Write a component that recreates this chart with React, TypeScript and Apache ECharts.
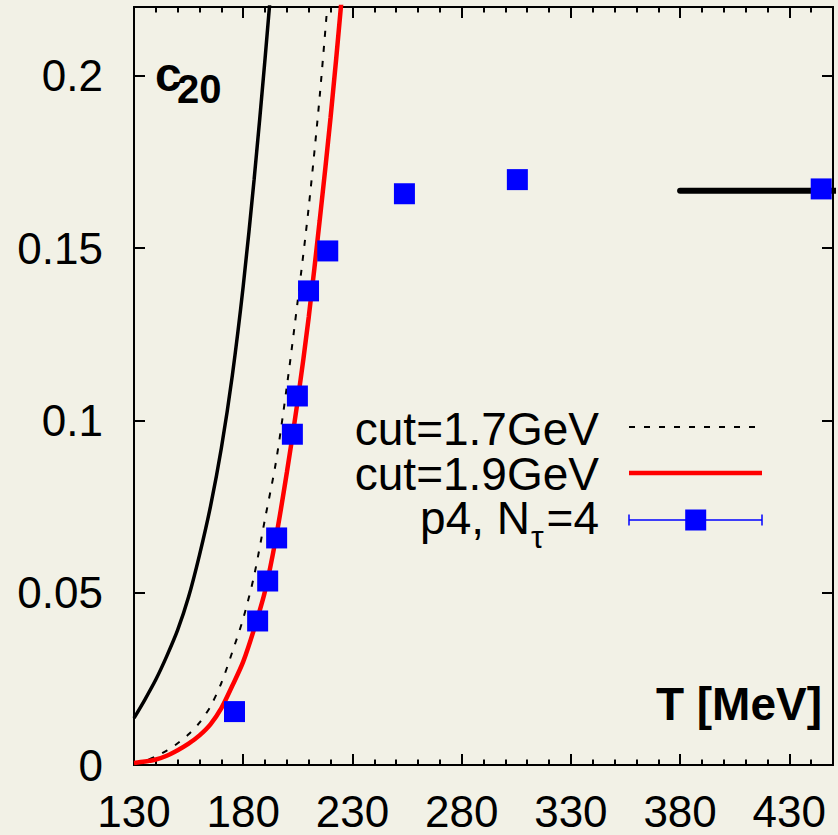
import React, { useEffect, useRef } from "react";
import * as echarts from "echarts";

// solid black curve (no legend entry)
const hrgT = [130, 135, 140, 145, 150, 155, 160, 165, 170, 175, 180, 185, 190, 195];
const hrgC2 = [0.0136, 0.019, 0.0248, 0.0316, 0.0392, 0.0488, 0.061, 0.075, 0.092, 0.113, 0.139, 0.17, 0.205, 0.243];

// cut=1.7GeV (dashed black)
const cut17T = [130, 135, 140, 145, 150, 155, 160, 165, 170, 175, 180, 185, 190, 195, 200, 205, 210, 215, 220];
const cut17C2 = [0.0006, 0.0012, 0.0025, 0.0042, 0.0063, 0.0089, 0.0123, 0.017, 0.0238, 0.0328, 0.0425, 0.055, 0.0715, 0.088, 0.11, 0.135, 0.162, 0.194, 0.232];

// cut=1.9GeV (red)
const cut19T = [130, 135, 140, 145, 150, 155, 160, 165, 170, 175, 180, 185, 190, 195, 200, 205, 210, 215, 220, 225, 230];
const cut19C2 = [0.0006, 0.001, 0.0016, 0.0027, 0.0043, 0.0062, 0.0086, 0.0118, 0.0165, 0.023, 0.03, 0.0395, 0.0505, 0.066, 0.085, 0.106, 0.13, 0.158, 0.188, 0.222, 0.26];

// p4, N_tau=4 lattice points
const p4T = [176.0, 186.6, 191.2, 195.3, 202.5, 204.8, 209.9, 218.7, 253.8, 305.5, 444.6];
const p4C2 = [0.0155, 0.0418, 0.0534, 0.0659, 0.096, 0.1071, 0.1376, 0.1492, 0.1658, 0.1699, 0.1672];

// Stefan-Boltzmann limit segment
const sbT = [380, 452];
const sbC2 = [0.1667, 0.1667];

const X_MIN = 130, X_MAX = 450, X_MAJOR = 50, X_MINOR = 10;
const Y_MIN = 0, Y_MAX = 0.22, Y_MAJOR = 0.05;

const FONT = "'Liberation Sans', Arial, Helvetica, sans-serif";
const BG = "#f2f1e6";

const zip = (xs: number[], ys: number[]) => xs.map((x, i) => [x, ys[i]]);

export default function App() {
  const ref = useRef<HTMLDivElement>(null);
  useEffect(() => {
    const chart = echarts.init(ref.current!, null, { renderer: "svg" });
    const line = { show: true, onZero: false, lineStyle: { color: "#000", width: 2 } };
    const noLabel = { show: false };
    const xAx = (position: string, interval: number, len: number, labels: boolean) => ({
      type: "value",
      position,
      min: X_MIN,
      max: X_MAX,
      interval,
      axisLine: line,
      axisTick: { show: true, inside: true, length: len, lineStyle: { color: "#000", width: 2 } },
      axisLabel: labels
        ? { show: true, fontSize: 44, color: "#000", fontFamily: FONT, margin: 24, showMaxLabel: false }
        : noLabel,
      splitLine: { show: false },
    });
    const yAx = (position: string, labels: boolean) => ({
      type: "value",
      position,
      min: Y_MIN,
      max: Y_MAX,
      interval: Y_MAJOR,
      axisLine: line,
      axisTick: { show: true, inside: true, length: 11, lineStyle: { color: "#000", width: 2 } },
      axisLabel: labels
        ? { show: true, fontSize: 44, color: "#000", fontFamily: FONT, margin: 31, showMaxLabel: false }
        : noLabel,
      splitLine: { show: false },
    });
    const txt = (
      text: string,
      x: number,
      y: number,
      size: number,
      align: string,
      weight = "normal",
      lh?: number
    ) => ({
      type: "text",
      style: {
        text,
        x,
        y,
        fill: "#000",
        fontSize: size,
        fontFamily: FONT,
        fontWeight: weight,
        textAlign: align,
        textVerticalAlign: "middle",
        verticalAlign: "middle",
        lineHeight: lh ?? size,
      },
      z: 100,
    });
    chart.setOption({
      animation: false,
      backgroundColor: BG,
      grid: { left: 134, right: 5, top: 7, bottom: 70, containLabel: false },
      xAxis: [
        xAx("bottom", X_MAJOR, 11, true),
        xAx("bottom", X_MINOR, 5.5, false),
        xAx("top", X_MAJOR, 11, false),
        xAx("top", X_MINOR, 5.5, false),
      ],
      yAxis: [yAx("left", true), yAx("right", false)],
      series: [
        {
          type: "line",
          data: zip(hrgT, hrgC2),
          smooth: 0.3,
          showSymbol: false,
          lineStyle: { color: "#000", width: 3.5 },
        },
        {
          type: "line",
          name: "cut=1.7GeV",
          data: zip(cut17T, cut17C2),
          smooth: 0.3,
          showSymbol: false,
          lineStyle: { color: "#000", width: 2, type: [6, 9] },
        },
        {
          type: "line",
          name: "cut=1.9GeV",
          data: zip(cut19T, cut19C2),
          smooth: 0.3,
          showSymbol: false,
          lineStyle: { color: "#ff0000", width: 4.5 },
        },
        {
          type: "line",
          data: zip(sbT, sbC2),
          showSymbol: false,
          clip: false,
          lineStyle: { color: "#000", width: 6, cap: "round" },
        },
        {
          type: "scatter",
          name: "p4, N_tau=4",
          data: zip(p4T, p4C2),
          symbol: "rect",
          symbolSize: 21,
          itemStyle: { color: "#0000ff", opacity: 1 },
          z: 10,
        },
      ],
      graphic: [
        // c_20 label
        txt("c", 155, 74, 48, "left", "bold"),
        txt("20", 177, 89, 40, "left", "bold"),
        // axis title
        txt("T [MeV]", 822, 704, 46, "right", "bold"),
        // legend
        txt("cut=1.7GeV", 599, 429, 46, "right", "normal", 40),
        {
          type: "line",
          shape: { x1: 629, y1: 427, x2: 762, y2: 427 },
          style: { stroke: "#000", lineWidth: 2, lineDash: [6, 9] },
          z: 100,
        },
        txt("cut=1.9GeV", 599, 474, 46, "right", "normal", 40),
        {
          type: "line",
          shape: { x1: 629, y1: 473, x2: 762, y2: 473 },
          style: { stroke: "#ff0000", lineWidth: 4.5 },
          z: 100,
        },
        txt("p4, N", 530, 517.5, 46, "right", "normal", 40),
        txt("τ", 531, 537, 32, "left", "normal", 28),
        txt("=4", 599, 517.5, 46, "right", "normal", 40),
        {
          type: "line",
          shape: { x1: 629, y1: 520, x2: 762, y2: 520 },
          style: { stroke: "#0000ff", lineWidth: 1.5 },
          z: 100,
        },
        {
          type: "line",
          shape: { x1: 629, y1: 514.5, x2: 629, y2: 525.5 },
          style: { stroke: "#0000ff", lineWidth: 1.5 },
          z: 100,
        },
        {
          type: "line",
          shape: { x1: 762, y1: 514.5, x2: 762, y2: 525.5 },
          style: { stroke: "#0000ff", lineWidth: 1.5 },
          z: 100,
        },
        {
          type: "rect",
          shape: { x: 685.2, y: 509.5, width: 21, height: 21 },
          style: { fill: "#0000ff" },
          z: 100,
        },
      ],
    });
    return () => chart.dispose();
  }, []);
  return (
    <div
      ref={ref}
      style={{ position: "absolute", left: 0, top: 0, width: 838, height: 835 }}
    />
  );
}
